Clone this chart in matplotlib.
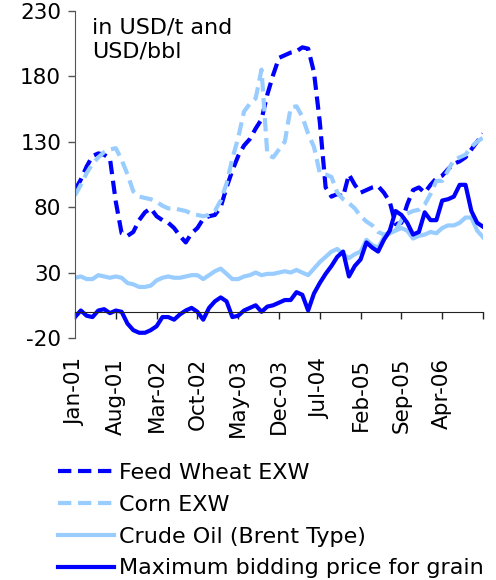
import matplotlib
matplotlib.use("Agg")
import matplotlib.pyplot as plt
import numpy as np

# monthly values, Jan-01 .. Nov-06
feed_wheat = [
    93, 101, 111, 119, 121, 120, 117, 84, 60, 58,
    61, 70, 76, 79, 73, 70, 68, 64, 58, 53,
    60, 64, 71, 73, 74, 80, 95, 108, 119, 127,
    132, 140, 147, 166, 181, 194, 196, 198, 199, 202,
    201, 183, 145, 95, 88, 90, 88, 105, 97, 91,
    93, 95, 96, 91, 84, 67, 68, 82, 93, 95,
    91, 97, 102, 104, 109, 113, 115, 118, 124, 130,
    136,
]
corn = [
    89, 97, 106, 113, 118, 122, 124, 125, 116, 105,
    92, 88, 87, 86, 84, 81, 79, 79, 78, 77,
    75, 74, 73, 74, 77, 85, 98, 117, 133, 153,
    159, 163, 185, 120, 118, 124, 130, 156, 157, 149,
    136, 126, 106, 105, 103, 91, 86, 83, 79, 73,
    69, 66, 61, 59, 60, 62, 70, 75, 77, 78,
    82, 90, 100, 100, 108, 116, 118, 120, 126, 130,
    133,
]
crude_oil = [
    26, 27, 25, 25, 28, 27, 26, 27, 26, 22,
    21, 19, 19, 20, 24, 26, 27, 26, 26, 27,
    28, 28, 25, 28, 31, 33, 29, 25, 25, 27,
    28, 30, 28, 29, 29, 30, 31, 30, 32, 30,
    28, 33, 38, 42, 46, 48, 44, 41, 44, 46,
    55, 51, 49, 57, 60, 62, 64, 62, 56, 58,
    59, 61, 60, 64, 66, 66, 68, 72, 72, 62,
    57,
]
max_bid = [
    -4, 1, -3, -4, 1, 2, -1, 1, 0, -9,
    -14, -16, -16, -14, -11, -4, -4, -6, -2, 1,
    3, 0, -6, 3, 8, 11, 8, -4, -3, 1,
    3, 5, 0, 4, 5, 7, 9, 9, 15, 13,
    1, 14, 22, 29, 35, 42, 46, 27, 35, 40,
    53, 49, 46, 55, 62, 77, 74, 68, 59, 61,
    76, 70, 70, 85, 86, 88, 97, 97, 77, 68,
    65,
]
tick_labels = ["Jan-01", "Aug-01", "Mar-02", "Oct-02", "May-03", "Dec-03",
               "Jul-04", "Feb-05", "Sep-05", "Apr-06", ""]
y_ticks = [-20, 30, 80, 130, 180, 230]

DARK = "#0000FF"
LIGHT = "#99CCFF"

plt.rcParams["font.family"] = "DejaVu Sans"
plt.rcParams["font.size"] = 15.5
plt.rcParams["axes.unicode_minus"] = False

fig = plt.figure(figsize=(4.96, 5.8), dpi=100)
ax = fig.add_axes([75 / 496, 1 - 338 / 580, 408 / 496, 327.3 / 580])

x = np.arange(len(feed_wheat))
dash = (0, (3.2, 1.6))
ax.plot(x, feed_wheat, color=DARK, lw=3, ls=dash, label="Feed Wheat EXW")
ax.plot(x, corn, color=LIGHT, lw=3, ls=dash, label="Corn EXW")
ax.plot(x, crude_oil, color=LIGHT, lw=3, label="Crude Oil (Brent Type)")
ax.plot(x, max_bid, color=DARK, lw=3, label="Maximum bidding price for grain")

ax.set_xlim(0, len(x) - 1)
ax.set_ylim(-20, 230)
ax.set_yticks(y_ticks)
ax.set_xticks(np.arange(0, len(x), 7))
ax.set_xticklabels(tick_labels)

for side in ("top", "right"):
    ax.spines[side].set_visible(False)
ax.spines["bottom"].set_position(("data", 0))
ax.spines["bottom"].set_color("#222222")
ax.spines["left"].set_color("#555555")
ax.tick_params(axis="y", direction="out", length=5, width=1, color="#555555", pad=5)
ax.tick_params(axis="x", direction="out", length=5, width=1, color="#222222",
               pad=28, labelrotation=90)

ax.text(0.042, 0.978, "in USD/t and\nUSD/bbl", transform=ax.transAxes,
        ha="left", va="top", linespacing=1.25, fontsize=16)

fig.legend(loc="upper left", bbox_to_anchor=(58 / 496, 1 - 463 / 580),
           frameon=False, handlelength=2.5, handletextpad=0.25,
           labelspacing=0.53, borderaxespad=0, borderpad=0, fontsize=16)

fig.savefig("out.png", dpi=100)
